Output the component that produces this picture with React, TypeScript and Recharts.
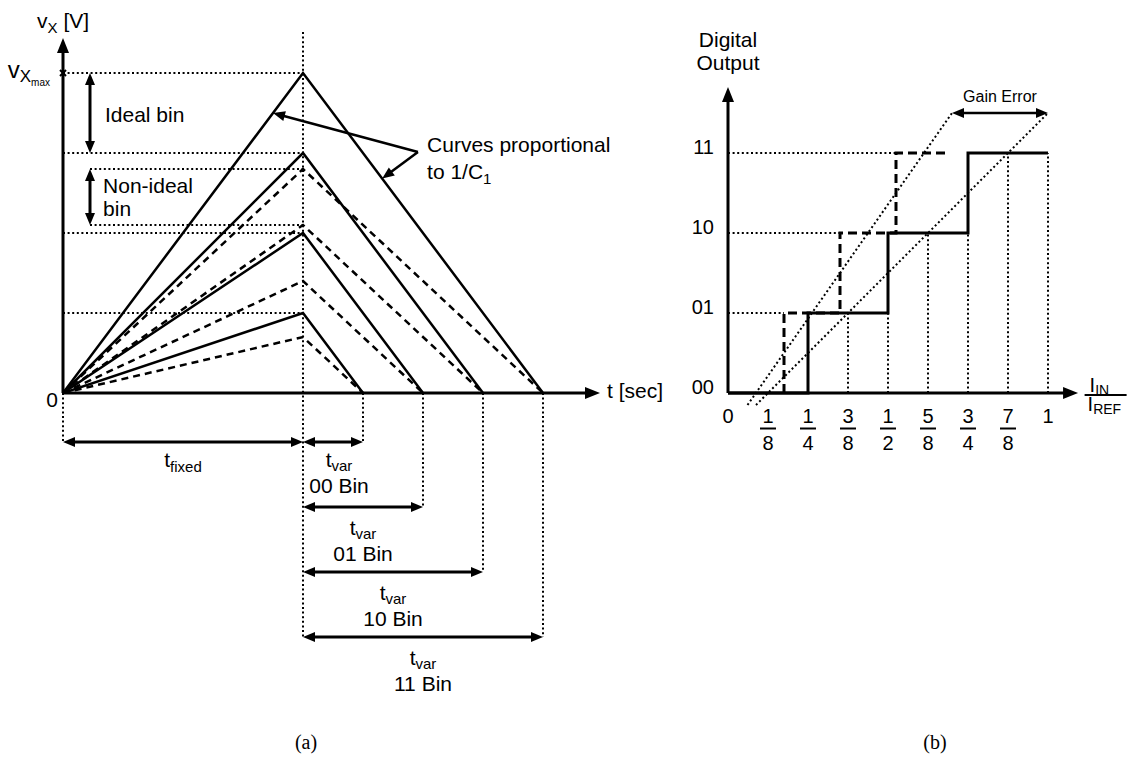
import React from "react";
import {
  LineChart,
  Line,
  XAxis,
  YAxis,
  ReferenceLine,
  ReferenceDot,
} from "recharts";

const FONT = "'Liberation Sans', Arial, Helvetica, sans-serif";
const INK = "#000";
const DOTS = "2 2.6";
const DASHES = "7 5";

// (a) integrate for t_fixed, then discharge until v_X returns to zero
const T_FIXED = 1;
const V_MAX = 4;
const idealPeaks = [4, 3, 2, 1];
const nonIdealPeaks = [2.8, 2.1, 1.4, 0.7];
const dischargeEnds = [2.0, 1.75, 1.5, 1.25];
const binCodes = ["11", "10", "01", "00"];
const binRows = [-3.05, -2.2375, -1.425, -0.6125];
const binLabelT = [1.5, 1.375, 1.25, 1.15];
const binLabelV = [-3.4, -2.5875, -1.775, -0.925];
const fullLevels = [4, 3, 2, 1];
const nonIdealLevels = [2.8, 2.1];

// (b) 2-bit transfer characteristic
const codeLabels = ["00", "01", "10", "11"];
const inputTicks = [0, 0.125, 0.25, 0.375, 0.5, 0.625, 0.75, 0.875, 1];
const inputTickLabels = [
  ["0"], ["1", "8"], ["1", "4"], ["3", "8"], ["1", "2"],
  ["5", "8"], ["3", "4"], ["7", "8"], ["1"],
];
const idealRisers = [0.25, 0.5, 0.75];
const idealEnd = 1;
const gainRisers = [0.175, 0.35, 0.525];
const gainEnd = 0.69;
const idealFit = [{ x: 0.0875, y: -0.15 }, { x: 1, y: 3.5 }];
const gainFit = [{ x: 0.061, y: -0.15 }, { x: 0.7, y: 3.5 }];
const gridX = [0.375, 0.5, 0.625, 0.75, 0.875, 1];
const gridTops = [1, 1, 2, 2, 3, 3];

// px per data unit, used to orient arrowheads
const A_SX = 240, A_SY = 80;
const B_SX = 320, B_SY = 80;

type Pt = { x: number; y: number };

const headShape = (angle: number, len: number, half: number) => (p: any) => {
  const { cx, cy } = p;
  const c = Math.cos(angle), s = Math.sin(angle);
  const bx = cx - len * c, by = cy - len * s;
  const pts = [
    [cx, cy],
    [bx - half * s, by + half * c],
    [bx + half * s, by - half * c],
  ];
  return <polygon points={pts.map((q) => q.join(",")).join(" ")} fill={INK} />;
};

const arrow = (
  key: string,
  a: Pt,
  b: Pt,
  sx: number,
  sy: number,
  opt: { both?: boolean; w?: number; len?: number; half?: number } = {}
) => {
  const { both = false, w = 2.5, len = 12, half = 5 } = opt;
  const dx = (b.x - a.x) * sx, dy = -(b.y - a.y) * sy;
  const L = Math.hypot(dx, dy);
  const ang = Math.atan2(dy, dx);
  const trim = (len * 0.7) / L;
  const end = { x: b.x - (b.x - a.x) * trim, y: b.y - (b.y - a.y) * trim };
  const start = both
    ? { x: a.x + (b.x - a.x) * trim, y: a.y + (b.y - a.y) * trim }
    : a;
  const out = [
    <ReferenceLine key={key} segment={[start, end]} stroke={INK} strokeWidth={w} ifOverflow="visible" />,
    <ReferenceDot key={key + "-h"} x={b.x} y={b.y} r={1} ifOverflow="visible" shape={headShape(ang, len, half)} />,
  ];
  if (both)
    out.push(
      <ReferenceDot key={key + "-t"} x={a.x} y={a.y} r={1} ifOverflow="visible" shape={headShape(ang + Math.PI, len, half)} />
    );
  return out;
};

const dotted = (key: string, a: Pt, b: Pt) => (
  <ReferenceLine key={key} segment={[a, b]} stroke={INK} strokeWidth={2} strokeDasharray={DOTS} ifOverflow="visible" />
);

const note = (
  key: string,
  x: number,
  y: number,
  body: React.ReactNode,
  size = 21,
  anchor: "start" | "middle" | "end" = "start"
) => (
  <ReferenceDot
    key={key}
    x={x}
    y={y}
    r={1}
    ifOverflow="visible"
    shape={(p: any) => (
      <text x={p.cx} y={p.cy} fontFamily={FONT} fontSize={size} textAnchor={anchor} fill={INK}>
        {body}
      </text>
    )}
  />
);

const tvar = (
  <>
    t<tspan dy={4} fontSize={15}>var</tspan>
  </>
);

const VoltTick = (p: any) => {
  const { x, y, payload } = p;
  if (payload.value === 0)
    return (
      <text x={x} y={y + 14} textAnchor="end" fontFamily={FONT} fontSize={21} fill={INK}>0</text>
    );
  return (
    <g>
      <text x={x - 8} y={y + 5} textAnchor="end" fontFamily={FONT} fontSize={24} fill={INK}>
        v<tspan dy={4} fontSize={17}>X</tspan>
        <tspan dy={4} fontSize={10}>max</tspan>
      </text>
      <path d={`M${x + 2},${y - 3} l6,6 M${x + 8},${y - 3} l-6,6`} stroke={INK} strokeWidth={2} />
    </g>
  );
};

const CodeTick = (p: any) => {
  const { x, y, payload } = p;
  return (
    <text x={x} y={y + 1} textAnchor="end" fontFamily={FONT} fontSize={20} fill={INK}>
      {codeLabels[payload.value]}
    </text>
  );
};

const FracTick = (p: any) => {
  const { x, y, index } = p;
  const [num, den] = inputTickLabels[index] ?? [""];
  const t = { fontFamily: FONT, fontSize: 20, fill: INK, textAnchor: "middle" as const };
  if (!den)
    return <text x={x} y={y + 14} {...t}>{num}</text>;
  return (
    <g>
      <text x={x} y={y + 14} {...t}>{num}</text>
      <line x1={x - 8} x2={x + 8} y1={y + 19.5} y2={y + 19.5} stroke={INK} strokeWidth={2} />
      <text x={x} y={y + 41} {...t}>{den}</text>
    </g>
  );
};

const staircase = (risers: number[], end: number, start: number): Pt[] => {
  const pts: Pt[] = [{ x: start, y: 0 }];
  risers.forEach((r, i) => {
    pts.push({ x: r, y: i });
    pts.push({ x: r, y: i + 1 });
  });
  pts.push({ x: end, y: risers.length });
  return pts;
};

const ramp = (peak: number, end: number) => [
  { t: 0, v: 0 },
  { t: T_FIXED, v: peak },
  { t: end, v: 0 },
];

const PanelA = () => (
  <LineChart width={700} height={770} margin={{ top: 25, right: 61, bottom: 73, left: 3 }}>
    <XAxis type="number" dataKey="t" domain={[0, 2.4]} hide allowDataOverflow />
    <YAxis
      type="number"
      domain={[-3.8, 4.6]}
      ticks={[0, V_MAX]}
      width={60}
      axisLine={false}
      tickLine={false}
      tickSize={0}
      tickMargin={5}
      tick={<VoltTick />}
      allowDataOverflow
    />

    {fullLevels.map((lv) => dotted(`lv${lv}`, { x: 0, y: lv }, { x: T_FIXED, y: lv }))}
    {nonIdealLevels.map((lv) => dotted(`nl${lv}`, { x: 0.1125, y: lv }, { x: T_FIXED, y: lv }))}
    {dotted("tf", { x: T_FIXED, y: 4.5125 }, { x: T_FIXED, y: binRows[0] })}
    {dotted("t0", { x: 0, y: 0 }, { x: 0, y: binRows[3] })}
    {dischargeEnds.map((e, i) => dotted(`te${i}`, { x: e, y: 0 }, { x: e, y: binRows[i] }))}

    {nonIdealPeaks.map((pk, i) => (
      <Line
        key={`n${i}`}
        data={ramp(pk, dischargeEnds[i])}
        dataKey="v"
        type="linear"
        stroke={INK}
        strokeWidth={2.5}
        strokeDasharray={DASHES}
        dot={false}
        activeDot={false}
        isAnimationActive={false}
      />
    ))}
    {idealPeaks.map((pk, i) => (
      <Line
        key={`s${i}`}
        data={ramp(pk, dischargeEnds[i])}
        dataKey="v"
        type="linear"
        stroke={INK}
        strokeWidth={2.5}
        dot={false}
        activeDot={false}
        isAnimationActive={false}
      />
    ))}

    {arrow("ay", { x: 0, y: 0 }, { x: 0, y: 4.4375 }, A_SX, A_SY, { w: 3, len: 15, half: 6 })}
    {arrow("ax", { x: 0, y: 0 }, { x: 2.2375, y: 0 }, A_SX, A_SY, { w: 3, len: 15, half: 6 })}
    {arrow("ib", { x: 0.1125, y: 3 }, { x: 0.1125, y: 4 }, A_SX, A_SY, { both: true, w: 3 })}
    {arrow("nb", { x: 0.1125, y: 2.1 }, { x: 0.1125, y: 2.8 }, A_SX, A_SY, { both: true, w: 3 })}
    {arrow("fx", { x: 0, y: binRows[3] }, { x: T_FIXED, y: binRows[3] }, A_SX, A_SY, { both: true, w: 3 })}
    {dischargeEnds.map((e, i) =>
      arrow(`bin${i}`, { x: T_FIXED, y: binRows[i] }, { x: e, y: binRows[i] }, A_SX, A_SY, { both: true, w: 3 })
    )}
    {arrow("c1", { x: 1.479, y: 3.0125 }, { x: 0.875, y: 3.5 }, A_SX, A_SY)}
    {arrow("c2", { x: 1.479, y: 3.0125 }, { x: 1.33, y: 2.68 }, A_SX, A_SY)}

    {note("vx", -0.108, 4.5625, <>v<tspan dy={5} fontSize={15}>X</tspan><tspan dy={-5}> [V]</tspan></>)}
    {note("ts", 2.267, -0.0625, "t [sec]")}
    {note("ideal", 0.175, 3.3875, "Ideal bin")}
    {note("ni1", 0.167, 2.5, "Non-ideal")}
    {note("ni2", 0.167, 2.2125, "bin")}
    {note("cv1", 1.517, 3.0125, "Curves proportional")}
    {note("cv2", 1.517, 2.675, <>to 1/C<tspan dy={5} fontSize={15}>1</tspan></>)}
    {note("tfix", 0.5, -0.925, <>t<tspan dy={5} fontSize={15}>fixed</tspan></>, 21, "middle")}
    {binCodes.map((c, i) => [
      note(`bt${i}`, binLabelT[i], binLabelV[i], tvar, 21, "middle"),
      note(`bb${i}`, binLabelT[i], binLabelV[i] - 0.325, `${c} Bin`, 21, "middle"),
    ])}
  </LineChart>
);

const PanelB = () => (
  <LineChart width={448} height={770} margin={{ top: 81, right: 48, bottom: 301, left: 8 }}>
    <XAxis
      type="number"
      dataKey="x"
      domain={[0, 1.1]}
      ticks={inputTicks}
      interval={0}
      height={60}
      axisLine={false}
      tickLine={false}
      tickSize={0}
      tickMargin={0}
      tick={<FracTick />}
      allowDataOverflow
    />
    <YAxis
      type="number"
      domain={[-0.2, 3.9]}
      ticks={[0, 1, 2, 3]}
      width={40}
      axisLine={false}
      tickLine={false}
      tickSize={0}
      tickMargin={14}
      tick={<CodeTick />}
      allowDataOverflow
    />

    {gainRisers.map((r, i) => dotted(`gl${i}`, { x: 0, y: i + 1 }, { x: r, y: i + 1 }))}
    {gridX.map((gx, i) => dotted(`gx${i}`, { x: gx, y: 0 }, { x: gx, y: gridTops[i] }))}

    {[idealFit, gainFit].map((d, i) => (
      <Line
        key={`fit${i}`}
        data={d}
        dataKey="y"
        type="linear"
        stroke={INK}
        strokeWidth={2}
        strokeDasharray={DOTS}
        dot={false}
        activeDot={false}
        isAnimationActive={false}
      />
    ))}
    <Line
      data={staircase(gainRisers, gainEnd, gainRisers[0])}
      dataKey="y"
      type="linear"
      stroke={INK}
      strokeWidth={3}
      strokeDasharray="9 5"
      dot={false}
      activeDot={false}
      isAnimationActive={false}
    />
    <Line
      data={staircase(idealRisers, idealEnd, 0)}
      dataKey="y"
      type="linear"
      stroke={INK}
      strokeWidth={3}
      dot={false}
      activeDot={false}
      isAnimationActive={false}
    />

    {arrow("by", { x: 0, y: 0 }, { x: 0, y: 3.825 }, B_SX, B_SY, { w: 3, len: 15, half: 6 })}
    {arrow("bx", { x: 0, y: 0 }, { x: 1.094, y: 0 }, B_SX, B_SY, { w: 3, len: 15, half: 6 })}
    {arrow("ge", { x: 0.7, y: 3.5 }, { x: 1, y: 3.5 }, B_SX, B_SY, { both: true, w: 2.5 })}

    {note("d1", 0, 4.325, "Digital", 21, "middle")}
    {note("d2", 0, 4.0375, "Output", 21, "middle")}
    {note("gain", 0.85, 3.6375, "Gain Error", 16, "middle")}
    <ReferenceDot
      x={1.13}
      y={0}
      r={1}
      ifOverflow="visible"
      shape={(p: any) => (
        <g fontFamily={FONT} fill={INK}>
          <text x={p.cx} y={p.cy - 1} fontSize={20}>
            I<tspan dy={3} fontSize={14}>IN</tspan>
          </text>
          <line x1={p.cx - 5} x2={p.cx + 37} y1={p.cy + 2} y2={p.cy + 2} stroke={INK} strokeWidth={2} />
          <text x={p.cx - 2} y={p.cy + 18} fontSize={20}>
            I<tspan dy={3} fontSize={14}>REF</tspan>
          </text>
        </g>
      )}
    />
  </LineChart>
);

const caption: React.CSSProperties = {
  position: "absolute",
  top: 731,
  width: 60,
  textAlign: "center",
  fontFamily: "'Liberation Serif', 'DejaVu Serif', serif",
  fontSize: 20,
  color: INK,
};

export default function App() {
  return (
    <div style={{ position: "absolute", left: 0, top: 0, width: 1128, height: 770, background: "#fff", overflow: "hidden" }}>
      <div style={{ position: "absolute", left: 0, top: 0 }}>
        <PanelA />
      </div>
      <div style={{ position: "absolute", left: 680, top: 0 }}>
        <PanelB />
      </div>
      <div style={{ ...caption, left: 276 }}>(a)</div>
      <div style={{ ...caption, left: 905 }}>(b)</div>
    </div>
  );
}
